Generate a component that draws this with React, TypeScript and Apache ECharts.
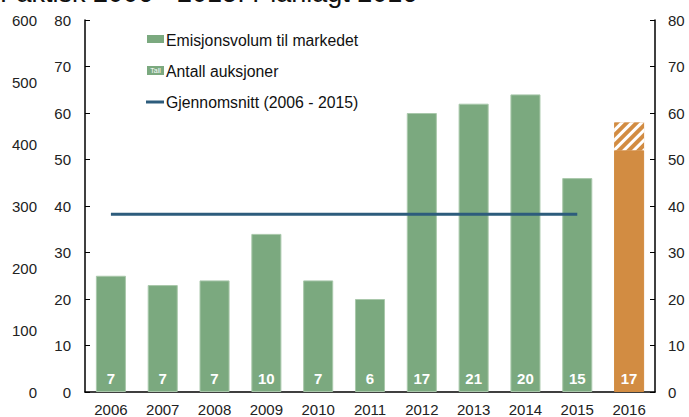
import React, { useEffect, useRef } from "react";
import * as echarts from "echarts";

const years = ["2006", "2007", "2008", "2009", "2010", "2011", "2012", "2013", "2014", "2015", "2016"];
const volume = [25, 23, 24, 34, 24, 20, 60, 62, 64, 46, 52];
const planned = [null, null, null, null, null, null, null, null, null, null, 6];
const auctions = [7, 7, 7, 10, 7, 6, 17, 21, 20, 15, 17];
const average = [38.2, 38.2, 38.2, 38.2, 38.2, 38.2, 38.2, 38.2, 38.2, 38.2, null];
const leftTicks = [0, 10, 20, 30, 40, 50, 60, 70, 80];
const outerTicks = [0, 100, 200, 300, 400, 500, 600];

const GREEN = "#7BA97F";
const ORANGE = "#D28C42";
const LINE = "#2D5C7C";
const FONT = "'Liberation Sans', Arial, sans-serif";

export default function App() {
  const ref = useRef<HTMLDivElement>(null);
  useEffect(() => {
    if (!ref.current) return;
    const chart = echarts.init(ref.current, null, { renderer: "svg" });
    const axisLabel = { color: "#222", fontSize: 15, fontFamily: FONT };
    chart.setOption({
      animation: false,
      textStyle: { fontFamily: FONT },
      grid: { left: 85, right: 34, top: 20, bottom: 25 },
      xAxis: {
        type: "category",
        data: years,
        axisLine: { lineStyle: { color: "#000", width: 1.5 } },
        axisTick: { inside: true, length: 5, lineStyle: { color: "#000" } },
        axisLabel: { ...axisLabel, margin: 10 },
      },
      yAxis: [
        {
          type: "value",
          min: leftTicks[0],
          max: leftTicks[leftTicks.length - 1],
          interval: 10,
          position: "left",
          axisLine: { show: true, lineStyle: { color: "#000", width: 1.5 } },
          axisTick: { show: true, inside: true, length: 5, lineStyle: { color: "#000" } },
          splitLine: { show: false },
          axisLabel: { ...axisLabel, margin: 14 },
        },
        {
          type: "value",
          min: leftTicks[0],
          max: leftTicks[leftTicks.length - 1],
          interval: 10,
          position: "right",
          axisLine: { show: true, lineStyle: { color: "#000", width: 1.5 } },
          axisTick: { show: true, inside: true, length: 5, lineStyle: { color: "#000" } },
          splitLine: { show: false },
          axisLabel: { ...axisLabel, margin: 13 },
        },
        {
          type: "value",
          min: outerTicks[0],
          max: outerTicks[outerTicks.length - 1],
          interval: 100,
          position: "left",
          offset: 40,
          axisLine: { show: false },
          axisTick: { show: false },
          splitLine: { show: false },
          axisLabel: { ...axisLabel, margin: 8 },
        },
      ],
      series: [
        {
          name: "Emisjonsvolum til markedet",
          type: "bar",
          stack: "v",
          barWidth: "58%",
          data: volume.map((v, i) =>
            i === volume.length - 1
              ? { value: v, itemStyle: { color: ORANGE, borderColor: ORANGE } }
              : v
          ),
          itemStyle: { color: GREEN, borderColor: "#A9C8AB", borderWidth: 1 },
          label: {
            show: true,
            position: "insideBottom",
            distance: 6,
            color: "#fff",
            fontWeight: "bold",
            fontSize: 15,
            fontFamily: FONT,
            formatter: (p: any) => String(auctions[p.dataIndex]),
          },
        },
        {
          name: "Planlagt",
          type: "bar",
          stack: "v",
          barWidth: "58%",
          data: planned,
          itemStyle: {
            color: ORANGE,
            decal: {
              symbol: "rect",
              color: "#ffffff",
              dashArrayX: [1, 0],
              dashArrayY: [3, 4],
              rotation: -Math.PI / 4,
              symbolSize: 1,
            },
          },
        },
        {
          name: "Gjennomsnitt (2006 - 2015)",
          type: "line",
          data: average,
          showSymbol: false,
          symbol: "none",
          lineStyle: { color: LINE, width: 3 },
          z: 5,
        },
      ],
      graphic: [
        {
          type: "text",
          x: 0,
          y: 6,
          style: {
            text: "Faktisk 2006 - 2015. Planlagt 2016",
            fontSize: 27,
            fontFamily: FONT,
            fill: "#111",
            verticalAlign: "bottom",
          },
        },
        { type: "rect", shape: { x: 147, y: 35, width: 17, height: 8 }, style: { fill: GREEN } },
        {
          type: "text",
          x: 166,
          y: 40,
          style: { text: "Emisjonsvolum til markedet", fontSize: 15.8, fontFamily: FONT, fill: "#111", verticalAlign: "middle" },
        },
        { type: "rect", shape: { x: 147, y: 66, width: 17, height: 9 }, style: { fill: GREEN } },
        {
          type: "text",
          x: 155.5,
          y: 70.5,
          style: { text: "Tall", fontSize: 7, fontFamily: FONT, fill: "#fff", align: "center", verticalAlign: "middle" },
        },
        {
          type: "text",
          x: 166,
          y: 71,
          style: { text: "Antall auksjoner", fontSize: 15.8, fontFamily: FONT, fill: "#111", verticalAlign: "middle" },
        },
        { type: "line", shape: { x1: 146, y1: 102, x2: 164, y2: 102 }, style: { stroke: LINE, lineWidth: 3 } },
        {
          type: "text",
          x: 166,
          y: 102,
          style: { text: "Gjennomsnitt (2006 - 2015)", fontSize: 15.8, fontFamily: FONT, fill: "#111", verticalAlign: "middle" },
        },
      ],
    });
    return () => chart.dispose();
  }, []);
  return (
    <div
      ref={ref}
      style={{ position: "fixed", left: 0, top: 0, width: 689, height: 417, background: "#fff" }}
    />
  );
}
